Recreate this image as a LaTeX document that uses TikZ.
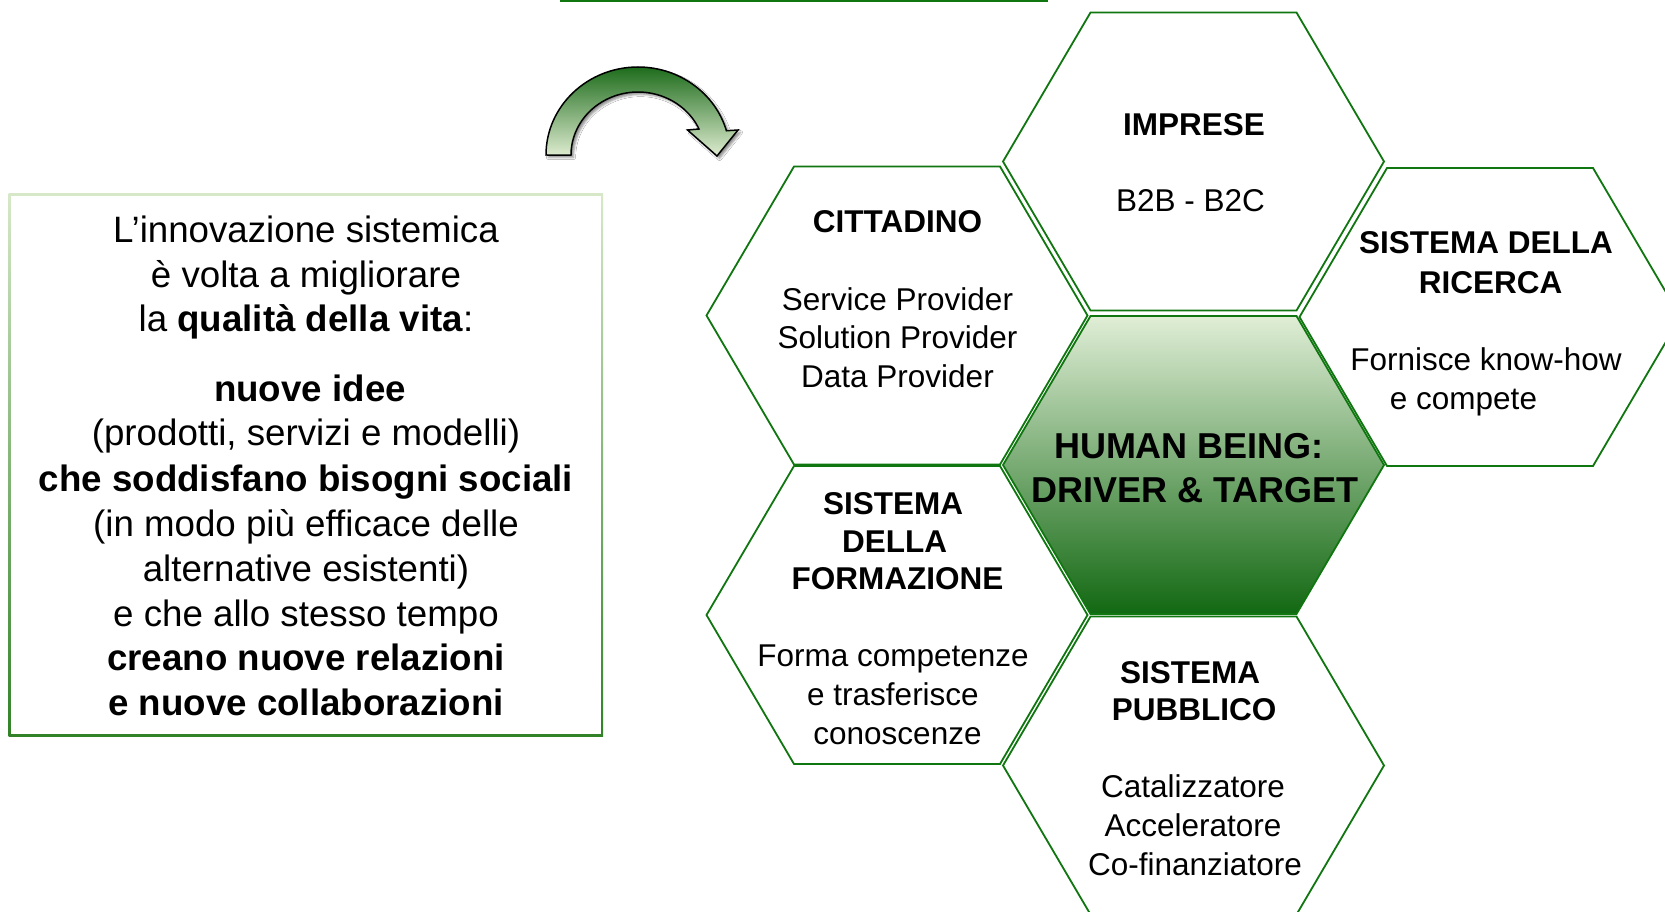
\documentclass[tikz,border=0pt]{standalone}
\usepackage{fontspec}
\setmainfont{Liberation Sans}
\usetikzlibrary{shadows.blur}
\definecolor{hexgreen}{RGB}{16,118,16}
\definecolor{hexlight}{RGB}{224,238,214}
\definecolor{hexmid}{RGB}{150,186,112}
\definecolor{hexdark}{RGB}{18,104,18}
\definecolor{arrowdark}{RGB}{30,108,28}
\definecolor{arrowlight}{RGB}{222,236,208}
\definecolor{boxtop}{RGB}{214,232,200}
\definecolor{boxbot}{RGB}{50,130,40}
\newcommand{\hexat}[3]{\path[#3, shift={(#1,#2)}] (-190.5,0) -- (-103,-149) -- (103,-149) -- (190.5,0) -- (103,149) -- (-103,149) -- cycle;}
\newcommand{\txtline}[5]{\node[txt, #4] (#1) at (#2,#3) {#5};}
\tikzset{
  txt/.style={anchor=base, inner sep=0pt},
  lefttxt/.style={font=\fontsize{36.7}{44}\selectfont, yshift=-3pt},
  hexbody/.style={font=\fontsize{31.5}{38}\selectfont, yshift=-2pt},
  hextitle/.style={font=\fontsize{31.5}{38}\selectfont\bfseries, yshift=-1pt},
  centertxt/.style={font=\fontsize{36}{44}\selectfont\bfseries},
  hexline/.style={draw=hexgreen, line width=1.8pt, line join=miter},
}
\begin{document}
\begin{tikzpicture}[x=1pt,y=-1pt]
\useasboundingbox (0,0) rectangle (1665,912);
\fill[white] (0,0) rectangle (1665,912);

% top line
\draw[hexgreen, line width=2.2pt] (560,0.6) -- (1048,0.6);

% curved arrow
\path[blur shadow={shadow xshift=2.5pt, shadow yshift=-2.5pt, shadow opacity=45},
      top color=arrowdark, bottom color=arrowlight, draw=black, line width=1.5pt, line join=miter]
  (546,155) arc[start angle=180, end angle=344, x radius=92, y radius=88]
  -- (738,130) -- (717,156) -- (687.5,130) -- (699,129)
  arc[start angle=335.6, end angle=180, x radius=67, y radius=63] -- cycle;

% left box with gradient border
\fill[top color=boxtop, bottom color=boxbot] (8.5,194) rectangle (603,736);
\fill[white] (10.7,196.2) rectangle (600.8,733.8);

\txtline{l1}{306}{240}{lefttxt}{L’innovazione sistemica}
\txtline{l2}{306}{284}{lefttxt}{è volta a migliorare}
\txtline{l3}{306}{328}{lefttxt}{la \textbf{qualità della vita}:}
\txtline{l4}{310}{398}{lefttxt}{\textbf{nuove idee}}
\txtline{l5}{306}{442}{lefttxt}{(prodotti, servizi e modelli)}
\txtline{l6}{306}{488}{lefttxt}{\textbf{che soddisfano bisogni sociali}}
\txtline{l7}{306}{533}{lefttxt}{(in modo più efficace delle}
\txtline{l8}{306}{578}{lefttxt}{alternative esistenti)}
\txtline{l9}{306}{623}{lefttxt}{e che allo stesso tempo}
\txtline{l10}{306}{667}{lefttxt}{\textbf{creano nuove relazioni}}
\txtline{l11}{306}{712}{lefttxt}{\textbf{e nuove collaborazioni}}

% hexagons
\hexat{1193.5}{161.5}{hexline, fill=white}
\hexat{897}{315.5}{hexline, fill=white}
\hexat{1490}{317}{hexline, fill=white}
\hexat{897}{615}{hexline, fill=white}
\hexat{1193.5}{765.5}{hexline, fill=white}
\hexat{1193.5}{465}{hexline, top color=hexlight, middle color=hexmid, bottom color=hexdark}

% Imprese
\txtline{imp1}{1194}{135}{hextitle}{IMPRESE}
\txtline{imp2}{1190.5}{210}{hexbody}{B2B - B2C}
% Cittadino
\txtline{cit1}{897.5}{232}{hextitle}{CITTADINO}
\txtline{cit2}{897.5}{308}{hexbody}{Service Provider}
\txtline{cit3}{897.5}{346.5}{hexbody}{Solution Provider}
\txtline{cit4}{897.5}{385}{hexbody}{Data Provider}
% Ricerca
\txtline{ric1}{1486}{253}{hextitle}{SISTEMA DELLA}
\txtline{ric2}{1490.5}{292}{hextitle}{RICERCA}
\txtline{ric3}{1486}{368}{hexbody}{Fornisce know-how}
\txtline{ric4}{1463.5}{407}{hexbody}{e compete}
% Formazione
\txtline{for1}{893}{513}{hextitle}{SISTEMA}
\txtline{for2}{894.5}{551}{hextitle}{DELLA}
\txtline{for3}{897.5}{588}{hextitle}{FORMAZIONE}
\txtline{for4}{893}{664}{hexbody}{Forma competenze}
\txtline{for5}{893}{703}{hexbody}{e trasferisce}
\txtline{for6}{897.5}{742}{hexbody}{conoscenze}
% Pubblico
\txtline{pub1}{1190}{682}{hextitle}{SISTEMA}
\txtline{pub2}{1194}{719}{hextitle}{PUBBLICO}
\txtline{pub3}{1193}{795}{hexbody}{Catalizzatore}
\txtline{pub4}{1193}{834}{hexbody}{Acceleratore}
\txtline{pub5}{1195}{873}{hexbody}{Co-finanziatore}
% Center
\txtline{hb1}{1189}{458}{centertxt}{HUMAN BEING:}
\txtline{hb2}{1195}{502}{centertxt}{DRIVER \& TARGET}
\end{tikzpicture}
\end{document}
